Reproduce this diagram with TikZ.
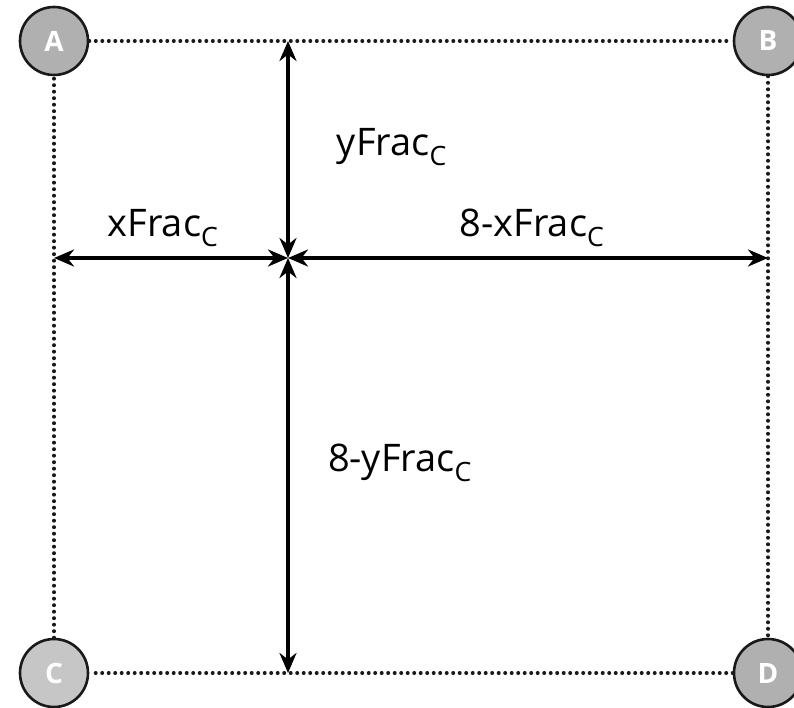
\documentclass[tikz,border=0pt]{standalone}
\usepackage{fontspec}
\setmainfont{Open Sans}
\usetikzlibrary{arrows.meta}
\begin{document}
\begin{tikzpicture}[x=1pt,y=-1pt,
  corner/.style={circle, draw=black!90, line width=2.6pt, fill=gray!62,
    minimum size=68pt, inner sep=0pt, text=white,
    font=\bfseries\fontsize{28}{28}\selectfont},
  edge/.style={line width=4pt, line cap=round, dash pattern=on 0pt off 6.5pt, black!90},
  dim/.style={{Stealth[length=20pt,width=17pt]}-{Stealth[length=20pt,width=17pt]}, line width=3.6pt},
  lbl/.style={font=\fontsize{38}{42}\selectfont}]
\useasboundingbox (0,0) rectangle (794,708);

% grid corners
\node[corner]               (A) at (54,41)  {A};
\node[corner]               (B) at (768,41) {B};
\node[corner, fill=gray!45] (C) at (54,673) {C};
\node[corner]               (D) at (768,673) {D};

% dotted cell border
\draw[edge] (A) -- (B);
\draw[edge] (B) -- (D);
\draw[edge] (D) -- (C);
\draw[edge] (C) -- (A);

% sample point
\coordinate (P) at (288,258);

% distance arrows
\draw[dim] (P |- A) -- (P);
\draw[dim] (P) -- (P |- C);
\draw[dim] (A |- P) -- (P);
\draw[dim] (P) -- (B |- P);

% labels
\node[lbl] (ly)  at (392,147) {yFrac\textsubscript{C}};
\node[lbl] (lx)  at (163,228) {xFrac\textsubscript{C}};
\node[lbl] (lx8) at (532,228) {8-xFrac\textsubscript{C}};
\node[lbl] (ly8) at (400,463) {8-yFrac\textsubscript{C}};
\end{tikzpicture}
\end{document}
